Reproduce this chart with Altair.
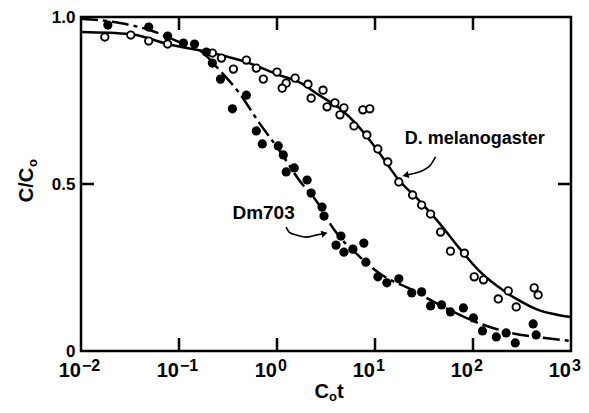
import altair as alt
import pandas as pd

# Dm703 (filled circles)
dm703_x = [0.0188, 0.0491, 0.0766, 0.111, 0.144, 0.190, 0.219, 0.265, 0.487, 0.351,
           0.615, 0.708, 1.03, 1.16, 1.24, 1.50, 2.03, 2.23, 2.88, 3.02,
           4.49, 4.00, 4.82, 5.95, 7.69, 8.07, 10.7, 13.2, 17.5, 23.7,
           29.9, 36.9, 47.8, 58.9, 79.8, 101, 125, 173, 218, 270, 411, 441]
dm703_y = [0.976, 0.970, 0.943, 0.922, 0.919, 0.895, 0.862, 0.814, 0.766, 0.725,
           0.659, 0.620, 0.614, 0.587, 0.536, 0.548, 0.512, 0.473, 0.431, 0.404,
           0.344, 0.317, 0.296, 0.305, 0.323, 0.266, 0.222, 0.204, 0.216, 0.174,
           0.177, 0.135, 0.138, 0.117, 0.129, 0.099, 0.060, 0.042, 0.054, 0.024, 0.081, 0.048]

# D. melanogaster (open circles)
mel_x = [0.0175, 0.0322, 0.0491, 0.0766, 0.219, 0.271, 0.359, 0.487, 0.615, 0.725,
         1.00, 1.24, 1.13, 1.53, 2.07, 2.23, 2.95, 3.24, 3.90, 4.39,
         4.82, 7.52, 8.85, 6.10, 8.26, 10.7, 13.5, 17.5, 24.2, 29.9,
         36.9, 46.7, 58.9, 81.8, 103, 128, 181, 229, 276, 421, 462]
mel_y = [0.940, 0.946, 0.928, 0.919, 0.892, 0.877, 0.844, 0.871, 0.847, 0.814,
         0.835, 0.802, 0.787, 0.817, 0.799, 0.757, 0.781, 0.731, 0.743, 0.707,
         0.728, 0.722, 0.725, 0.674, 0.647, 0.605, 0.566, 0.506, 0.467, 0.437,
         0.410, 0.356, 0.299, 0.293, 0.222, 0.213, 0.156, 0.180, 0.132, 0.189, 0.168]

# fitted curves
solid_x = [0.01, 0.0315, 0.0766, 0.219, 0.521, 1.05, 1.68, 2.69, 4.29, 6.84,
           10.9, 17.5, 27.9, 44.5, 71.1, 113, 181, 289, 462, 738, 1000]
solid_y = [0.955, 0.949, 0.919, 0.892, 0.862, 0.826, 0.805, 0.766, 0.728, 0.671,
           0.596, 0.512, 0.452, 0.386, 0.311, 0.243, 0.192, 0.153, 0.123, 0.108, 0.102]
dashed_x = [0.01, 0.0249, 0.0502, 0.101, 0.162, 0.259, 0.413, 0.659, 1.05, 1.68,
            2.69, 3.39, 4.29, 6.38, 10.9, 23.7, 52.5, 113, 245, 544, 1000]
dashed_y = [0.995, 0.982, 0.961, 0.925, 0.901, 0.841, 0.772, 0.683, 0.602, 0.512,
            0.437, 0.386, 0.344, 0.293, 0.234, 0.183, 0.129, 0.084, 0.054, 0.039, 0.030]

# annotation arrows
arrow_mel_x = [41.5, 36.9, 29.9, 23.7, 20.5]
arrow_mel_y = [0.581, 0.557, 0.539, 0.530, 0.526]
arrow_dm_x = [1.24, 1.33, 1.57, 1.98, 2.50, 3.05]
arrow_dm_y = [0.371, 0.356, 0.347, 0.341, 0.347, 0.352]

decades = [0.01, 0.1, 1, 10, 100, 1000]
exponents = ["\u22122", "\u22121", "0", "1", "2", "3"]
inner_decades = [0.1, 1, 10, 100]
y_ticks = [0, 0.5, 1.0]

FONT = "Liberation Sans"
W, H = 490, 334
xs = alt.Scale(type="log", domain=[0.01, 1000], nice=False)
ys = alt.Scale(domain=[0, 1], nice=False, zero=False)


def X(f="x"):
    return alt.X(f"{f}:Q", scale=xs, axis=None)


def Y(f="y"):
    return alt.Y(f"{f}:Q", scale=ys,
                 axis=alt.Axis(values=y_ticks, ticks=False, domain=False, grid=False,
                               labelExpr="datum.value == 0 ? '0' : format(datum.value, '.1f')",
                               labelFontSize=17, labelFont=FONT, labelFontWeight="bold",
                               labelColor="black", labelPadding=6, labelFlush=False, title=None))


dm = pd.DataFrame({"x": dm703_x, "y": dm703_y})
mel = pd.DataFrame({"x": mel_x, "y": mel_y})
sol = pd.DataFrame({"x": solid_x, "y": solid_y})
das = pd.DataFrame({"x": dashed_x, "y": dashed_y})
am = pd.DataFrame({"x": arrow_mel_x, "y": arrow_mel_y, "o": range(len(arrow_mel_x))})
ad = pd.DataFrame({"x": arrow_dm_x, "y": arrow_dm_y, "o": range(len(arrow_dm_x))})
dec = pd.DataFrame({"x": decades, "e": exponents, "b": ["10"] * 6, "y": [0] * 6})
inner = pd.DataFrame({"x": inner_decades})
half = pd.DataFrame({"y": [0.5]})

solid_line = alt.Chart(sol).mark_line(color="black", strokeWidth=2.5, interpolate="monotone").encode(x=X(), y=Y())
dashed_line = alt.Chart(das).mark_line(color="black", strokeWidth=2.5, interpolate="monotone",
                                       strokeDash=[17, 5, 4, 5]).encode(x=X(), y=Y())
open_pts = alt.Chart(mel).mark_point(shape="circle", filled=True, fill="white", stroke="black",
                                     strokeWidth=1.9, size=55, opacity=1).encode(x=X(), y=Y())
filled_pts = alt.Chart(dm).mark_circle(color="black", size=85, opacity=1).encode(x=X(), y=Y())

arrow1 = alt.Chart(am).mark_line(color="black", strokeWidth=1.6, interpolate="monotone").encode(
    x=X(), y=Y(), order="o:Q")
head1 = alt.Chart(am.tail(1)).mark_point(shape="triangle-left", filled=True, color="black",
                                          size=50, opacity=1, angle=345).encode(x=X(), y=Y())
arrow2 = alt.Chart(ad).mark_line(color="black", strokeWidth=1.6, interpolate="monotone").encode(
    x=X(), y=Y(), order="o:Q")
head2 = alt.Chart(ad.tail(1)).mark_point(shape="triangle-right", filled=True, color="black",
                                          size=50, opacity=1, angle=345).encode(x=X(), y=Y())

lab_mel = alt.Chart(pd.DataFrame({"x": [20.1], "y": [0.635], "t": ["D. melanogaster"]})).mark_text(
    font=FONT, fontSize=18, fontWeight="bold", align="left", baseline="middle", color="black").encode(
    x=X(), y=Y(), text="t:N")
lab_dm = alt.Chart(pd.DataFrame({"x": [0.351], "y": [0.413], "t": ["Dm703"]})).mark_text(
    font=FONT, fontSize=19, fontWeight="bold", align="left", baseline="middle", color="black").encode(
    x=X(), y=Y(), text="t:N")

# ticks (inward) on all four sides
tick_bottom = alt.Chart(inner).mark_rule(color="black", strokeWidth=2.5).encode(
    x=X(), y=alt.value(H), y2=alt.value(H - 13))
tick_top = alt.Chart(inner).mark_rule(color="black", strokeWidth=2.5).encode(
    x=X(), y=alt.value(0), y2=alt.value(13))
tick_left = alt.Chart(half).mark_rule(color="black", strokeWidth=2.5).encode(
    y=Y(), x=alt.value(0), x2=alt.value(13))
tick_right = alt.Chart(half).mark_rule(color="black", strokeWidth=2.5).encode(
    y=Y(), x=alt.value(W), x2=alt.value(W - 13))

# x tick labels: 10 with superscript exponent
xlab_base = alt.Chart(dec).mark_text(font=FONT, fontSize=20, fontWeight="bold", align="right",
                                     baseline="alphabetic", dy=26, color="black").encode(
    x=X(), y=Y(), text="b:N")
xlab_exp = alt.Chart(dec).mark_text(font=FONT, fontSize=16, fontWeight="bold", align="left",
                                    baseline="alphabetic", dy=20, dx=1, color="black").encode(
    x=X(), y=Y(), text="e:N")

# axis titles
tx = pd.DataFrame({"x": [3.16], "y": [0]})
xt_c = alt.Chart(tx).mark_text(text="C", font=FONT, fontSize=20, fontWeight="bold", align="right",
                               baseline="alphabetic", dx=3, dy=47, color="black").encode(x=X(), y=Y())
xt_o = alt.Chart(tx).mark_text(text="o", font=FONT, fontSize=13, fontWeight="bold", align="left",
                               baseline="alphabetic", dx=3, dy=50, color="black").encode(x=X(), y=Y())
xt_t = alt.Chart(tx).mark_text(text="t", font=FONT, fontSize=20, fontWeight="bold", align="left",
                               baseline="alphabetic", dx=11, dy=47, color="black").encode(x=X(), y=Y())
ty = pd.DataFrame({"x": [0.01], "y": [0.5]})
yt_c = alt.Chart(ty).mark_text(text="C/C", font=FONT, fontSize=20, fontWeight="bold", align="center",
                               baseline="alphabetic", angle=270, dx=-1, dy=-48, color="black").encode(x=X(), y=Y())
yt_o = alt.Chart(ty).mark_text(text="o", font=FONT, fontSize=13, fontWeight="bold", align="center",
                               baseline="alphabetic", angle=270, dx=21, dy=-44, color="black").encode(x=X(), y=Y())

chart = alt.layer(
    solid_line, dashed_line, arrow1, arrow2, head1, head2, open_pts, filled_pts,
    lab_mel, lab_dm, tick_bottom, tick_top, tick_left, tick_right,
    xlab_base, xlab_exp, xt_c, xt_o, xt_t, yt_c, yt_o
).properties(
    width=W, height=H,
    autosize=alt.AutoSizeParams(type="none"),
    padding={"left": 73, "top": 9, "right": 10, "bottom": 54},
    background="white",
).configure_view(stroke="black", strokeWidth=2.5)

chart.save("out.html", embed_options={"renderer": "svg", "actions": False})
